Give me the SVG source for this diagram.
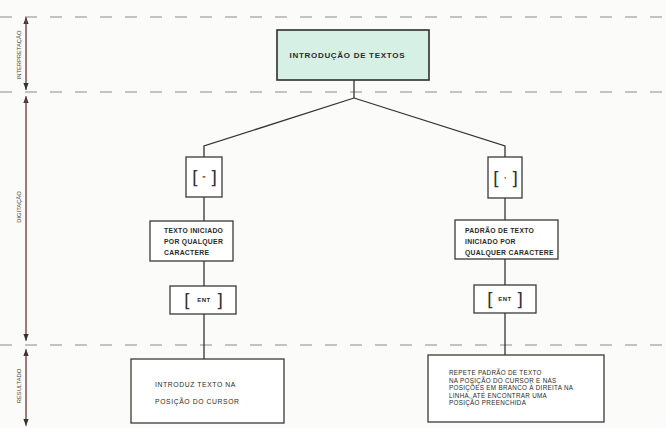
<svg xmlns="http://www.w3.org/2000/svg" width="666" height="428" viewBox="0 0 666 428">
<defs>
<style>
.bg{fill:#fbfbf9}
.dash{stroke:#8c8c8c;stroke-width:1.2;stroke-dasharray:12 13;fill:none}
.dim{stroke:#8a4a4a;stroke-width:1;fill:none}
.box{fill:#ffffff;stroke:#3a3a3a;stroke-width:1.3}
.top{fill:#d6f0e6;stroke:#2f2f2f;stroke-width:1.6}
.con{stroke:#333;stroke-width:1.3;fill:none}
.t{font-family:"Liberation Sans",Arial,sans-serif;fill:#2a2a2a}
.b{font-weight:bold}
.lbl{font-family:"Liberation Sans",Arial,sans-serif;font-size:5.8px;fill:#444}
.br{font-family:"DejaVu Sans",sans-serif;font-size:18px;fill:#333;font-weight:normal}
</style>
<marker id="ah" viewBox="0 0 8 8" refX="8" refY="4" markerWidth="7" markerHeight="7" markerUnits="userSpaceOnUse" orient="auto">
<path d="M0,1 L8,4 L0,7 Z" fill="#333"/>
</marker>
</defs>
<rect class="bg" x="0" y="0" width="666" height="428"/>

<g id="bands">
<line class="dash" x1="0" y1="17" x2="666" y2="17"/>
<line class="dash" x1="0" y1="92" x2="666" y2="92"/>
<line class="dash" x1="0" y1="345" x2="666" y2="345"/>
<line class="dim" x1="26" y1="90" x2="26" y2="17" marker-end="url(#ah)"/>
<line class="dim" x1="26" y1="20" x2="26" y2="90" marker-end="url(#ah)"/>
<line class="dim" x1="26" y1="340" x2="26" y2="96" marker-end="url(#ah)"/>
<line class="dim" x1="26" y1="100" x2="26" y2="341" marker-end="url(#ah)"/>
<line class="dim" x1="26" y1="420" x2="26" y2="349" marker-end="url(#ah)"/>
<line class="dim" x1="26" y1="355" x2="26" y2="426" marker-end="url(#ah)"/>
<text class="lbl" transform="translate(21,55) rotate(-90)" text-anchor="middle">INTERPRETAÇÃO</text>
<text class="lbl" transform="translate(21,207) rotate(-90)" text-anchor="middle">DIGITAÇÃO</text>
<text class="lbl" transform="translate(21,386) rotate(-90)" text-anchor="middle">RESULTADO</text>
</g>

<g id="connectors">
<polyline class="con" points="354,80 354,98"/>
<polyline class="con" points="354,98 204,146 204,157"/>
<polyline class="con" points="354,98 505,146 505,157"/>
<line class="con" x1="204" y1="197" x2="204" y2="221"/>
<line class="con" x1="204" y1="261" x2="204" y2="286"/>
<line class="con" x1="204" y1="314" x2="204" y2="359"/>
<line class="con" x1="505" y1="198" x2="505" y2="220"/>
<line class="con" x1="505" y1="259" x2="505" y2="285"/>
<line class="con" x1="505" y1="313" x2="505" y2="355"/>
</g>

<g id="n-intro">
<rect class="top" x="277" y="30" width="152" height="50"/>
<text class="t b" x="347" y="58" font-size="8" text-anchor="middle" textLength="115">INTRODUÇÃO DE TEXTOS</text>
</g>

<g id="n-key-left">
<rect class="box" x="186" y="157" width="36" height="40"/>
<text class="br" x="192" y="184">[</text>
<text class="br" x="210" y="184">]</text>
<text class="t b" x="204" y="181" font-size="7" text-anchor="middle">"</text>
</g>

<g id="n-key-right">
<rect class="box" x="488" y="157" width="34" height="41"/>
<text class="br" x="493" y="185">[</text>
<text class="br" x="511" y="185">]</text>
<text class="t b" x="505" y="182" font-size="7" text-anchor="middle">'</text>
</g>

<g id="n-texto-iniciado">
<rect class="box" x="150" y="221" width="83" height="40"/>
<text class="t b" font-size="6.8" letter-spacing="0.3">
<tspan x="164" y="233">TEXTO INICIADO</tspan>
<tspan x="164" y="244">POR QUALQUER</tspan>
<tspan x="164" y="255">CARACTERE</tspan>
</text>
</g>

<g id="n-padrao">
<rect class="box" x="455" y="220" width="103" height="39"/>
<text class="t b" font-size="6.8" letter-spacing="0.3">
<tspan x="465" y="233">PADRÃO DE TEXTO</tspan>
<tspan x="465" y="244">INICIADO POR</tspan>
<tspan x="465" y="255">QUALQUER CARACTERE</tspan>
</text>
</g>

<g id="n-ent-left">
<rect class="box" x="170" y="286" width="66" height="28"/>
<text class="br" x="184" y="307">[</text>
<text class="br" x="216" y="307">]</text>
<text class="t b" x="204" y="302" font-size="6" text-anchor="middle" letter-spacing="0.5">ENT</text>
</g>

<g id="n-ent-right">
<rect class="box" x="474" y="285" width="62" height="28"/>
<text class="br" x="487" y="306">[</text>
<text class="br" x="516" y="306">]</text>
<text class="t b" x="505" y="301" font-size="6" text-anchor="middle" letter-spacing="0.5">ENT</text>
</g>

<g id="n-result-left">
<rect class="box" x="131" y="359" width="153" height="64"/>
<text class="t" font-size="6.8" letter-spacing="0.6">
<tspan x="155" y="387">INTRODUZ TEXTO NA</tspan>
<tspan x="155" y="404">POSIÇÃO DO CURSOR</tspan>
</text>
</g>

<g id="n-result-right">
<rect class="box" x="428" y="355" width="176" height="67"/>
<text class="t" font-size="6.3" letter-spacing="0.3">
<tspan x="449" y="375">REPETE PADRÃO DE TEXTO</tspan>
<tspan x="449" y="382.5">NA POSIÇÃO DO CURSOR E NAS</tspan>
<tspan x="449" y="390">POSIÇÕES EM BRANCO À DIREITA NA</tspan>
<tspan x="449" y="397.5">LINHA, ATÉ ENCONTRAR UMA</tspan>
<tspan x="449" y="405">POSIÇÃO PREENCHIDA</tspan>
</text>
</g>
</svg>
